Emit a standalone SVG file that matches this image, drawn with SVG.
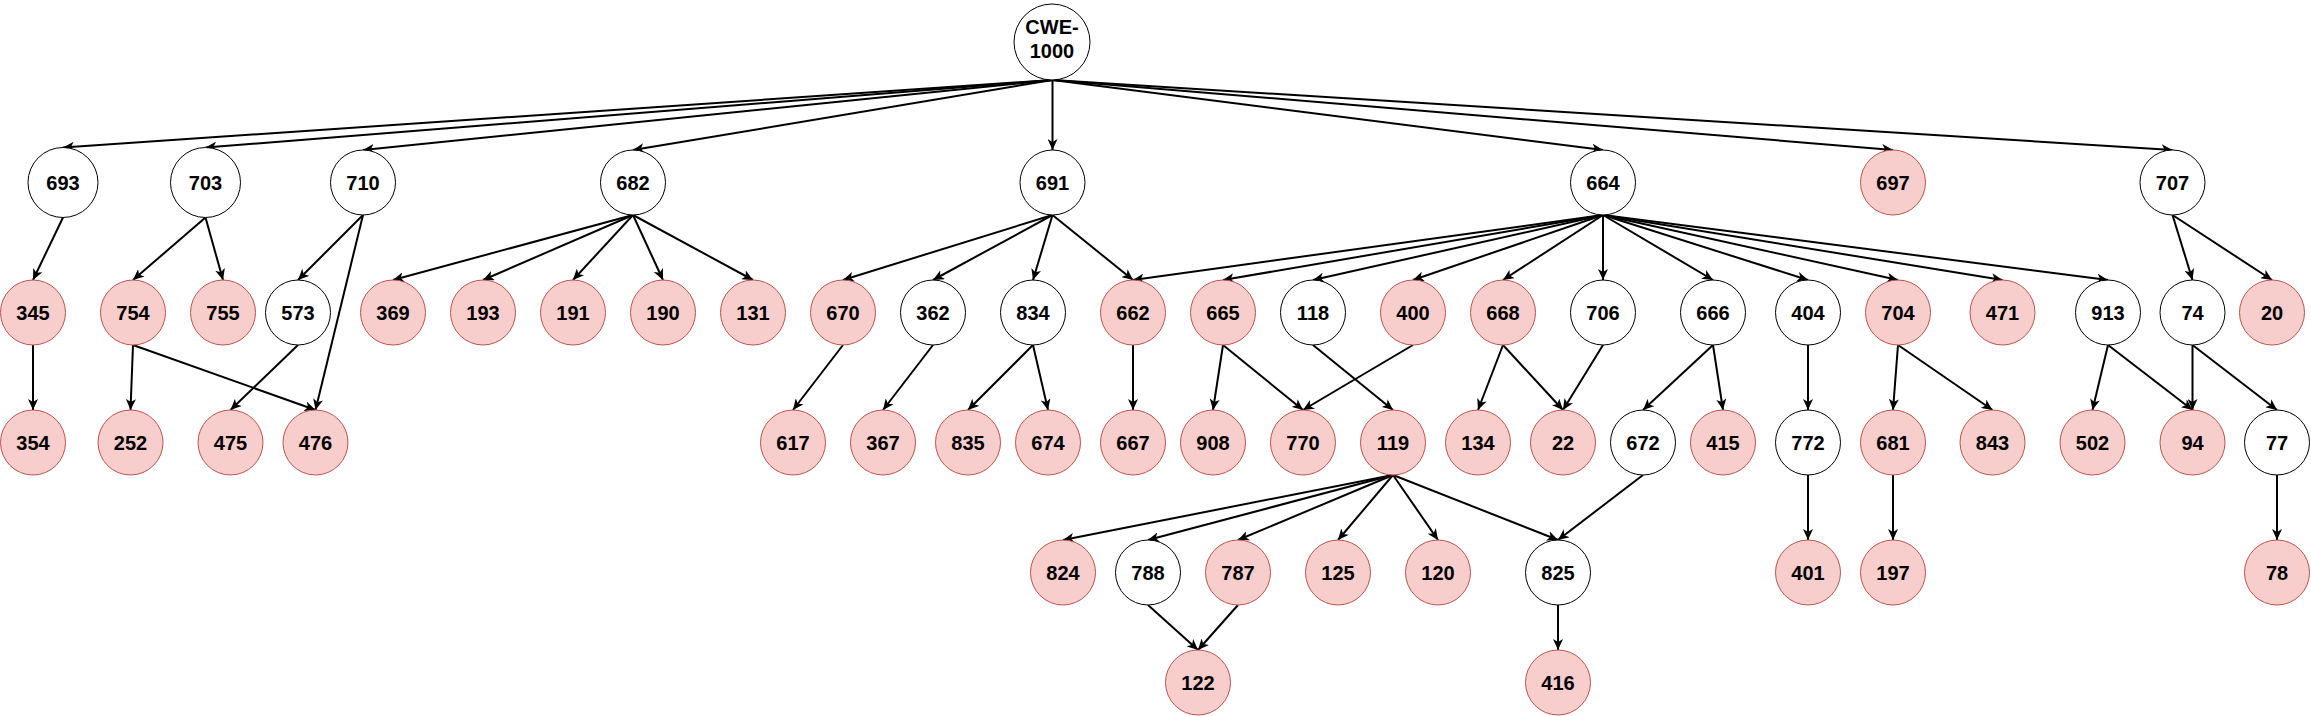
<svg xmlns="http://www.w3.org/2000/svg" width="2311" height="716" viewBox="0 0 2311 716">
<style>
.e{stroke:#000;stroke-width:2;fill:none;marker-end:url(#arr)}
.w{fill:#fff;stroke:#000;stroke-width:1}
.p{fill:#f8cecc;stroke:#b85450;stroke-width:1}
text{font-family:"Liberation Sans",Arial,sans-serif;font-weight:bold;font-size:20px;text-anchor:middle;fill:#000}
</style>
<defs>
<marker id="arr" viewBox="0 0 12 10" refX="11" refY="5" markerWidth="12" markerHeight="10" orient="auto" markerUnits="userSpaceOnUse"><path d="M0,0 L11,5 L0,10 L3,5 Z" fill="#000"/></marker>
</defs>
<rect width="2311" height="716" fill="#fff"/>
<g id="connectors">
<line class="e" x1="1052.5" y1="80" x2="63" y2="147.5"/>
<line class="e" x1="1052.5" y1="80" x2="205.5" y2="147.5"/>
<line class="e" x1="1052.5" y1="80" x2="363" y2="150"/>
<line class="e" x1="1052.5" y1="80" x2="633" y2="150"/>
<line class="e" x1="1052.5" y1="80" x2="1052.5" y2="150"/>
<line class="e" x1="1052.5" y1="80" x2="1603" y2="150"/>
<line class="e" x1="1052.5" y1="80" x2="1893" y2="150"/>
<line class="e" x1="1052.5" y1="80" x2="2172.5" y2="150"/>
<line class="e" x1="63" y1="217.5" x2="33" y2="280"/>
<line class="e" x1="33" y1="345" x2="33" y2="410"/>
<line class="e" x1="205.5" y1="217.5" x2="133" y2="280"/>
<line class="e" x1="205.5" y1="217.5" x2="223" y2="280"/>
<line class="e" x1="133" y1="345" x2="130.5" y2="410"/>
<line class="e" x1="133" y1="345" x2="315.5" y2="410"/>
<line class="e" x1="363" y1="215" x2="298" y2="280"/>
<line class="e" x1="363" y1="215" x2="315.5" y2="410"/>
<line class="e" x1="298" y1="345" x2="230.5" y2="410"/>
<line class="e" x1="633" y1="215" x2="393" y2="280"/>
<line class="e" x1="633" y1="215" x2="483" y2="280"/>
<line class="e" x1="633" y1="215" x2="573" y2="280"/>
<line class="e" x1="633" y1="215" x2="663" y2="280"/>
<line class="e" x1="633" y1="215" x2="753" y2="280"/>
<line class="e" x1="1052.5" y1="215" x2="843" y2="280"/>
<line class="e" x1="1052.5" y1="215" x2="933" y2="280"/>
<line class="e" x1="1052.5" y1="215" x2="1033" y2="280"/>
<line class="e" x1="1052.5" y1="215" x2="1133" y2="280"/>
<line class="e" x1="843" y1="345" x2="793" y2="410"/>
<line class="e" x1="933" y1="345" x2="883" y2="410"/>
<line class="e" x1="1033" y1="345" x2="968" y2="410"/>
<line class="e" x1="1033" y1="345" x2="1048" y2="410"/>
<line class="e" x1="1133" y1="345" x2="1133" y2="410"/>
<line class="e" x1="1603" y1="215" x2="1133" y2="280"/>
<line class="e" x1="1603" y1="215" x2="1223" y2="280"/>
<line class="e" x1="1603" y1="215" x2="1313" y2="280"/>
<line class="e" x1="1603" y1="215" x2="1413" y2="280"/>
<line class="e" x1="1603" y1="215" x2="1503" y2="280"/>
<line class="e" x1="1603" y1="215" x2="1603" y2="280"/>
<line class="e" x1="1603" y1="215" x2="1713" y2="280"/>
<line class="e" x1="1603" y1="215" x2="1808" y2="280"/>
<line class="e" x1="1603" y1="215" x2="1898" y2="280"/>
<line class="e" x1="1603" y1="215" x2="2002.5" y2="280"/>
<line class="e" x1="1603" y1="215" x2="2108" y2="280"/>
<line class="e" x1="1223" y1="345" x2="1213" y2="410"/>
<line class="e" x1="1223" y1="345" x2="1303" y2="410"/>
<line class="e" x1="1313" y1="345" x2="1393" y2="410"/>
<line class="e" x1="1413" y1="345" x2="1303" y2="410"/>
<line class="e" x1="1503" y1="345" x2="1478" y2="410"/>
<line class="e" x1="1503" y1="345" x2="1563" y2="410"/>
<line class="e" x1="1603" y1="345" x2="1563" y2="410"/>
<line class="e" x1="1713" y1="345" x2="1643" y2="410"/>
<line class="e" x1="1713" y1="345" x2="1723" y2="410"/>
<line class="e" x1="1808" y1="345" x2="1808" y2="410"/>
<line class="e" x1="1898" y1="345" x2="1893" y2="410"/>
<line class="e" x1="1898" y1="345" x2="1992.5" y2="410"/>
<line class="e" x1="2108" y1="345" x2="2092.5" y2="410"/>
<line class="e" x1="2108" y1="345" x2="2192.5" y2="410"/>
<line class="e" x1="2172.5" y1="215" x2="2192.5" y2="280"/>
<line class="e" x1="2172.5" y1="215" x2="2272" y2="280"/>
<line class="e" x1="2192.5" y1="345" x2="2192.5" y2="410"/>
<line class="e" x1="2192.5" y1="345" x2="2277" y2="410"/>
<line class="e" x1="1393" y1="475" x2="1063" y2="540"/>
<line class="e" x1="1393" y1="475" x2="1148" y2="540"/>
<line class="e" x1="1393" y1="475" x2="1238" y2="540"/>
<line class="e" x1="1393" y1="475" x2="1338" y2="540"/>
<line class="e" x1="1393" y1="475" x2="1438" y2="540"/>
<line class="e" x1="1393" y1="475" x2="1558" y2="540"/>
<line class="e" x1="1643" y1="475" x2="1558" y2="540"/>
<line class="e" x1="1148" y1="605" x2="1198" y2="650"/>
<line class="e" x1="1238" y1="605" x2="1198" y2="650"/>
<line class="e" x1="1558" y1="605" x2="1558" y2="650"/>
<line class="e" x1="1808" y1="475" x2="1808" y2="540"/>
<line class="e" x1="1893" y1="475" x2="1893" y2="540"/>
<line class="e" x1="2277" y1="475" x2="2277" y2="540"/>
</g>
<g id="root"><circle class="w" cx="1052" cy="42" r="38"/><text x="1052" y="34">CWE-</text><text x="1052" y="58">1000</text></g>
<g id="n693"><circle class="w" cx="63" cy="182.5" r="35"/><text x="63" y="189.5">693</text></g>
<g id="n703"><circle class="w" cx="205.5" cy="182.5" r="35"/><text x="205.5" y="189.5">703</text></g>
<g id="n710"><circle class="w" cx="363" cy="182.5" r="32.5"/><text x="363" y="189.5">710</text></g>
<g id="n682"><circle class="w" cx="633" cy="182.5" r="32.5"/><text x="633" y="189.5">682</text></g>
<g id="n691"><circle class="w" cx="1052.5" cy="182.5" r="32.5"/><text x="1052.5" y="189.5">691</text></g>
<g id="n664"><circle class="w" cx="1603" cy="182.5" r="32.5"/><text x="1603" y="189.5">664</text></g>
<g id="n697"><circle class="p" cx="1893" cy="182.5" r="32.5"/><text x="1893" y="189.5">697</text></g>
<g id="n707"><circle class="w" cx="2172.5" cy="182.5" r="32.5"/><text x="2172.5" y="189.5">707</text></g>
<g id="n345"><circle class="p" cx="33" cy="312.5" r="32.5"/><text x="33" y="319.5">345</text></g>
<g id="n754"><circle class="p" cx="133" cy="312.5" r="32.5"/><text x="133" y="319.5">754</text></g>
<g id="n755"><circle class="p" cx="223" cy="312.5" r="32.5"/><text x="223" y="319.5">755</text></g>
<g id="n573"><circle class="w" cx="298" cy="312.5" r="32.5"/><text x="298" y="319.5">573</text></g>
<g id="n369"><circle class="p" cx="393" cy="312.5" r="32.5"/><text x="393" y="319.5">369</text></g>
<g id="n193"><circle class="p" cx="483" cy="312.5" r="32.5"/><text x="483" y="319.5">193</text></g>
<g id="n191"><circle class="p" cx="573" cy="312.5" r="32.5"/><text x="573" y="319.5">191</text></g>
<g id="n190"><circle class="p" cx="663" cy="312.5" r="32.5"/><text x="663" y="319.5">190</text></g>
<g id="n131"><circle class="p" cx="753" cy="312.5" r="32.5"/><text x="753" y="319.5">131</text></g>
<g id="n670"><circle class="p" cx="843" cy="312.5" r="32.5"/><text x="843" y="319.5">670</text></g>
<g id="n362"><circle class="w" cx="933" cy="312.5" r="32.5"/><text x="933" y="319.5">362</text></g>
<g id="n834"><circle class="w" cx="1033" cy="312.5" r="32.5"/><text x="1033" y="319.5">834</text></g>
<g id="n662"><circle class="p" cx="1133" cy="312.5" r="32.5"/><text x="1133" y="319.5">662</text></g>
<g id="n665"><circle class="p" cx="1223" cy="312.5" r="32.5"/><text x="1223" y="319.5">665</text></g>
<g id="n118"><circle class="w" cx="1313" cy="312.5" r="32.5"/><text x="1313" y="319.5">118</text></g>
<g id="n400"><circle class="p" cx="1413" cy="312.5" r="32.5"/><text x="1413" y="319.5">400</text></g>
<g id="n668"><circle class="p" cx="1503" cy="312.5" r="32.5"/><text x="1503" y="319.5">668</text></g>
<g id="n706"><circle class="w" cx="1603" cy="312.5" r="32.5"/><text x="1603" y="319.5">706</text></g>
<g id="n666"><circle class="w" cx="1713" cy="312.5" r="32.5"/><text x="1713" y="319.5">666</text></g>
<g id="n404"><circle class="w" cx="1808" cy="312.5" r="32.5"/><text x="1808" y="319.5">404</text></g>
<g id="n704"><circle class="p" cx="1898" cy="312.5" r="32.5"/><text x="1898" y="319.5">704</text></g>
<g id="n471"><circle class="p" cx="2002.5" cy="312.5" r="32.5"/><text x="2002.5" y="319.5">471</text></g>
<g id="n913"><circle class="w" cx="2108" cy="312.5" r="32.5"/><text x="2108" y="319.5">913</text></g>
<g id="n74"><circle class="w" cx="2192.5" cy="312.5" r="32.5"/><text x="2192.5" y="319.5">74</text></g>
<g id="n20"><circle class="p" cx="2272" cy="312.5" r="32.5"/><text x="2272" y="319.5">20</text></g>
<g id="n354"><circle class="p" cx="33" cy="442.5" r="32.5"/><text x="33" y="449.5">354</text></g>
<g id="n252"><circle class="p" cx="130.5" cy="442.5" r="32.5"/><text x="130.5" y="449.5">252</text></g>
<g id="n475"><circle class="p" cx="230.5" cy="442.5" r="32.5"/><text x="230.5" y="449.5">475</text></g>
<g id="n476"><circle class="p" cx="315.5" cy="442.5" r="32.5"/><text x="315.5" y="449.5">476</text></g>
<g id="n617"><circle class="p" cx="793" cy="442.5" r="32.5"/><text x="793" y="449.5">617</text></g>
<g id="n367"><circle class="p" cx="883" cy="442.5" r="32.5"/><text x="883" y="449.5">367</text></g>
<g id="n835"><circle class="p" cx="968" cy="442.5" r="32.5"/><text x="968" y="449.5">835</text></g>
<g id="n674"><circle class="p" cx="1048" cy="442.5" r="32.5"/><text x="1048" y="449.5">674</text></g>
<g id="n667"><circle class="p" cx="1133" cy="442.5" r="32.5"/><text x="1133" y="449.5">667</text></g>
<g id="n908"><circle class="p" cx="1213" cy="442.5" r="32.5"/><text x="1213" y="449.5">908</text></g>
<g id="n770"><circle class="p" cx="1303" cy="442.5" r="32.5"/><text x="1303" y="449.5">770</text></g>
<g id="n119"><circle class="p" cx="1393" cy="442.5" r="32.5"/><text x="1393" y="449.5">119</text></g>
<g id="n134"><circle class="p" cx="1478" cy="442.5" r="32.5"/><text x="1478" y="449.5">134</text></g>
<g id="n22"><circle class="p" cx="1563" cy="442.5" r="32.5"/><text x="1563" y="449.5">22</text></g>
<g id="n672"><circle class="w" cx="1643" cy="442.5" r="32.5"/><text x="1643" y="449.5">672</text></g>
<g id="n415"><circle class="p" cx="1723" cy="442.5" r="32.5"/><text x="1723" y="449.5">415</text></g>
<g id="n772"><circle class="w" cx="1808" cy="442.5" r="32.5"/><text x="1808" y="449.5">772</text></g>
<g id="n681"><circle class="p" cx="1893" cy="442.5" r="32.5"/><text x="1893" y="449.5">681</text></g>
<g id="n843"><circle class="p" cx="1992.5" cy="442.5" r="32.5"/><text x="1992.5" y="449.5">843</text></g>
<g id="n502"><circle class="p" cx="2092.5" cy="442.5" r="32.5"/><text x="2092.5" y="449.5">502</text></g>
<g id="n94"><circle class="p" cx="2192.5" cy="442.5" r="32.5"/><text x="2192.5" y="449.5">94</text></g>
<g id="n77"><circle class="w" cx="2277" cy="442.5" r="32.5"/><text x="2277" y="449.5">77</text></g>
<g id="n824"><circle class="p" cx="1063" cy="572.5" r="32.5"/><text x="1063" y="579.5">824</text></g>
<g id="n788"><circle class="w" cx="1148" cy="572.5" r="32.5"/><text x="1148" y="579.5">788</text></g>
<g id="n787"><circle class="p" cx="1238" cy="572.5" r="32.5"/><text x="1238" y="579.5">787</text></g>
<g id="n125"><circle class="p" cx="1338" cy="572.5" r="32.5"/><text x="1338" y="579.5">125</text></g>
<g id="n120"><circle class="p" cx="1438" cy="572.5" r="32.5"/><text x="1438" y="579.5">120</text></g>
<g id="n825"><circle class="w" cx="1558" cy="572.5" r="32.5"/><text x="1558" y="579.5">825</text></g>
<g id="n401"><circle class="p" cx="1808" cy="572.5" r="32.5"/><text x="1808" y="579.5">401</text></g>
<g id="n197"><circle class="p" cx="1893" cy="572.5" r="32.5"/><text x="1893" y="579.5">197</text></g>
<g id="n78"><circle class="p" cx="2277" cy="572.5" r="32.5"/><text x="2277" y="579.5">78</text></g>
<g id="n122"><circle class="p" cx="1198" cy="682.5" r="32.5"/><text x="1198" y="689.5">122</text></g>
<g id="n416"><circle class="p" cx="1558" cy="682.5" r="32.5"/><text x="1558" y="689.5">416</text></g>
</svg>
